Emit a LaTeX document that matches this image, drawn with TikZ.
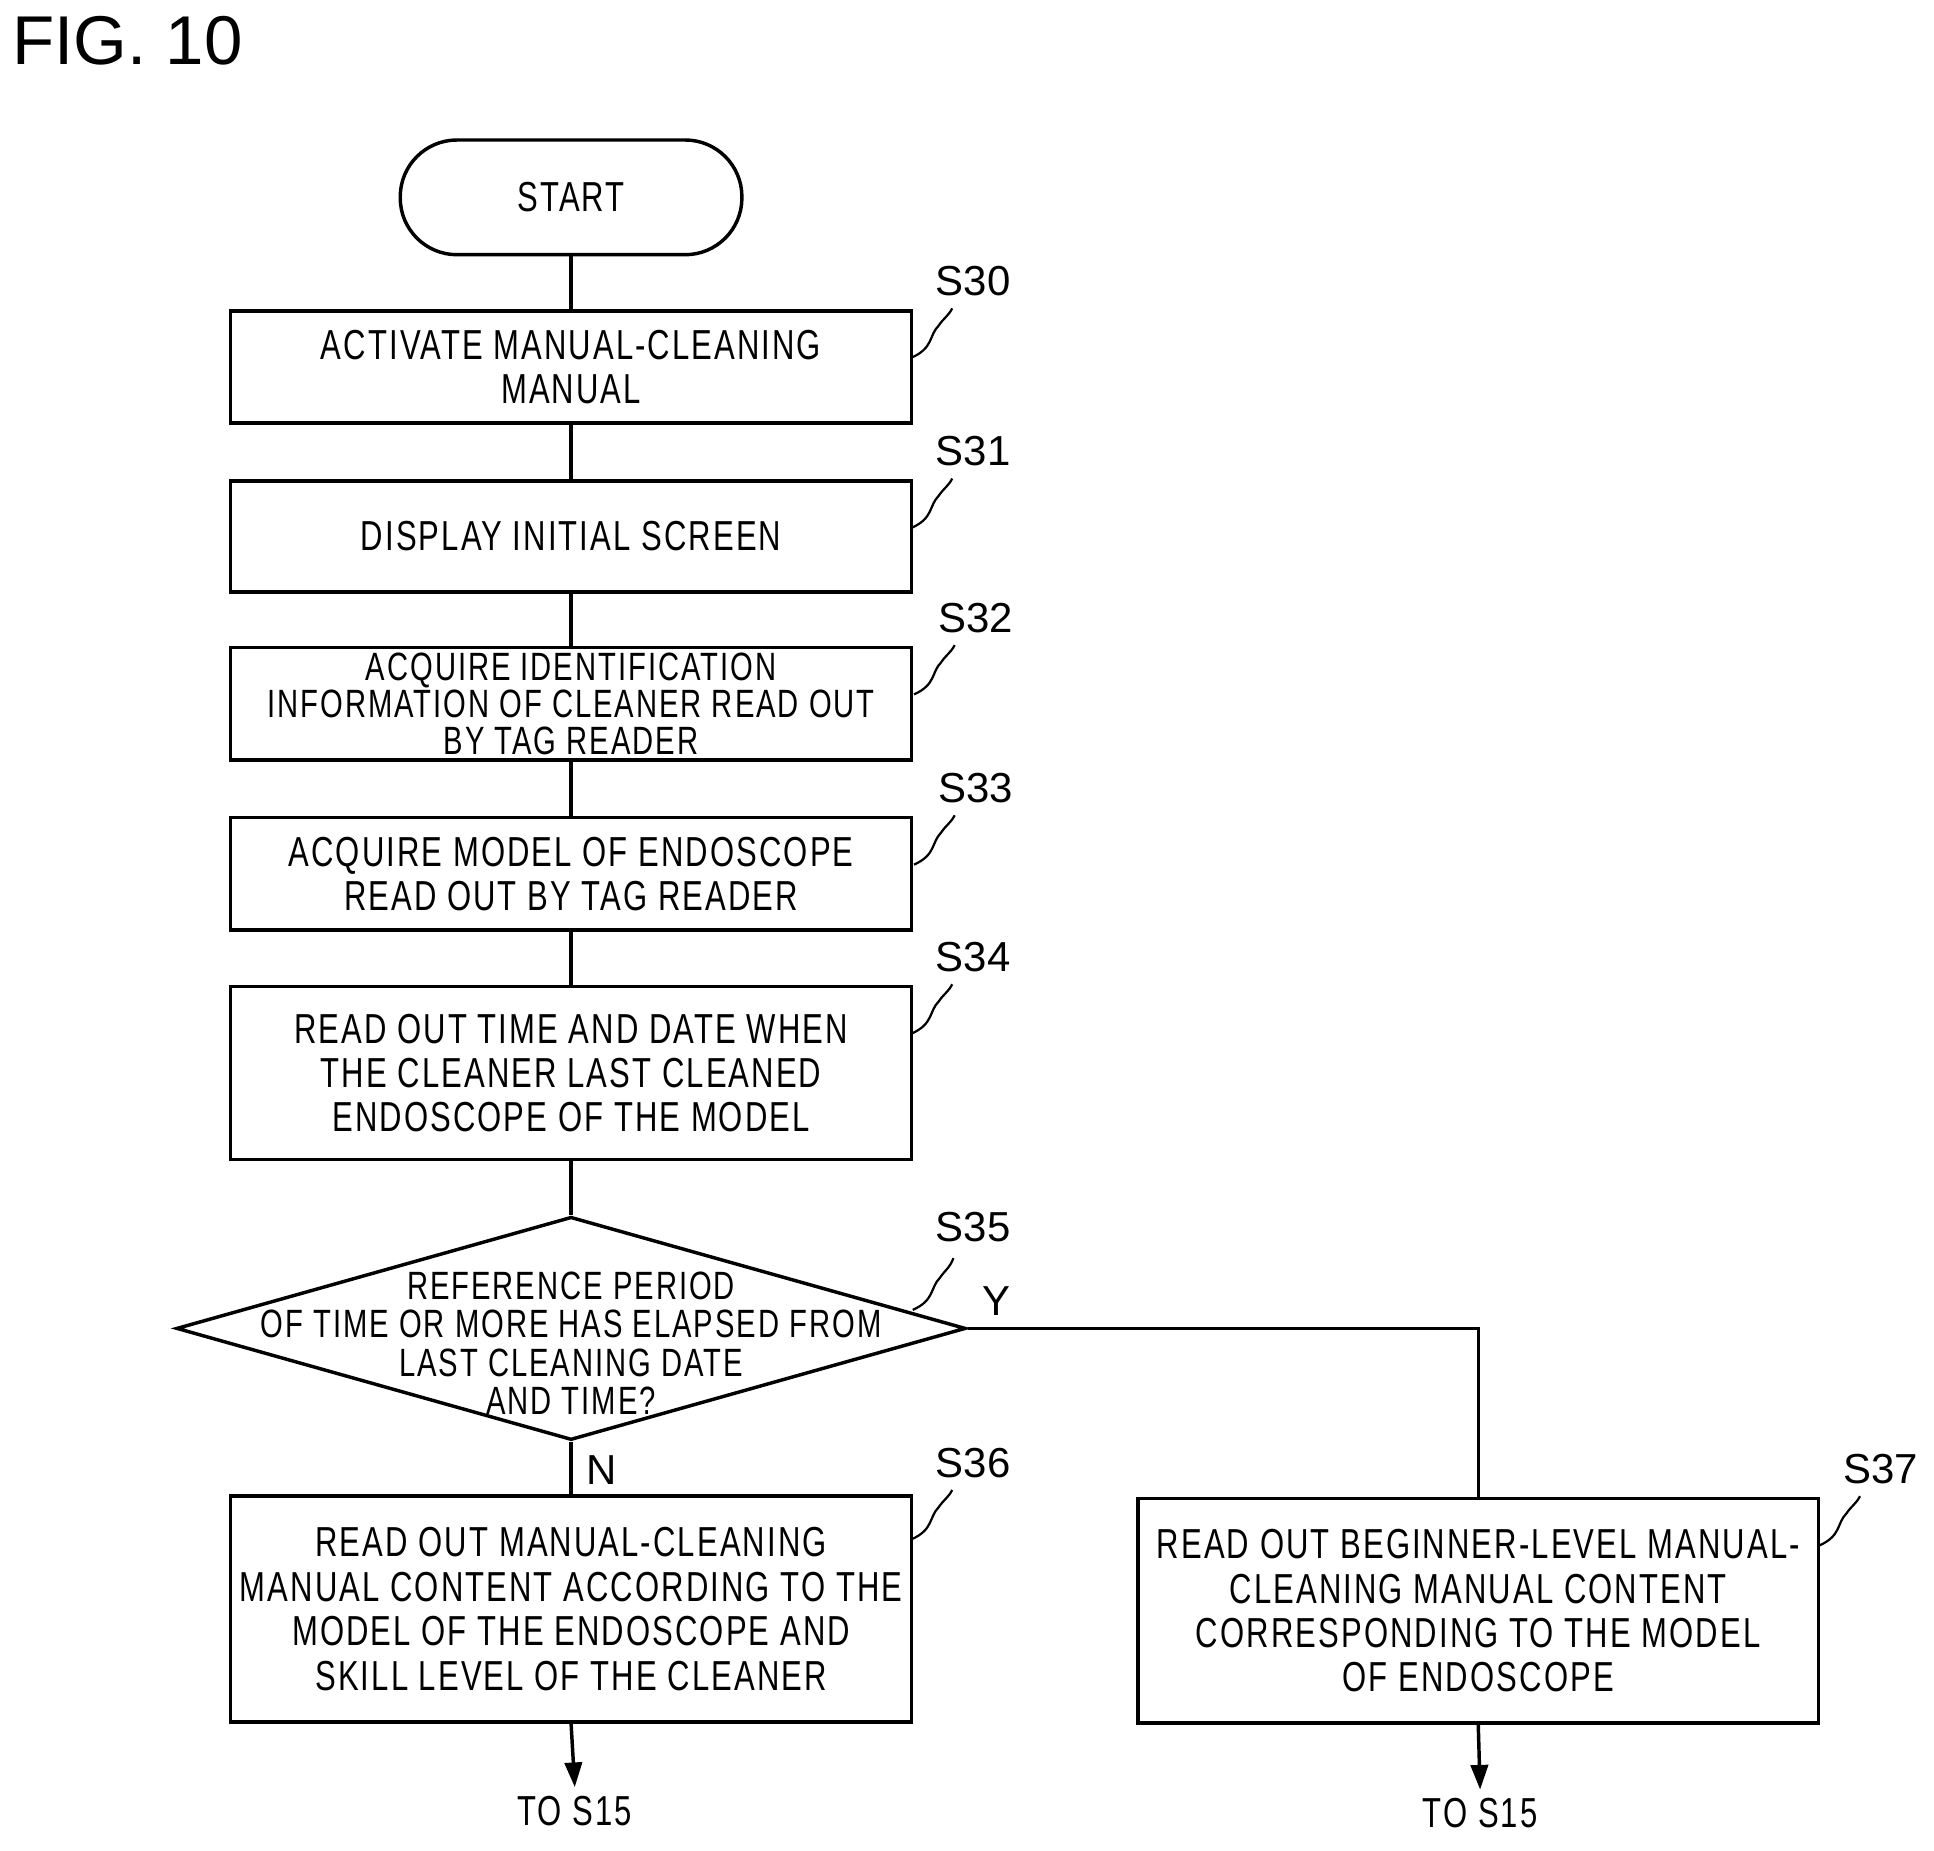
\documentclass[tikz,border=0pt]{standalone}
\usepackage{fontspec}
\setmainfont{Liberation Sans}[FakeStretch=0.74,LetterSpace=5]
\newfontfamily\lblfont{Liberation Sans}
\usetikzlibrary{shapes.geometric,arrows.meta}
\begin{document}
\begin{tikzpicture}[x=0.5pt,y=-0.5pt,
  box/.style={draw,line width=1.4pt,minimum width=276pt,align=center,inner sep=0pt,font=\fontsize{17}{18}\selectfont},
  lbl/.style={font=\lblfont\fontsize{17}{18}\selectfont},
  ln/.style={line width=1.4pt},
  sq/.style={line width=0.9pt}]
\useasboundingbox (0,0) rectangle (1568,1500);
\node[anchor=west,font=\lblfont\fontsize{28}{30}\selectfont] (fig) at (3,33) {FIG. 10};
\node[draw,line width=1.4pt,rounded corners=23pt,minimum width=138.5pt,minimum height=46.5pt,font=\fontsize{17}{18}\selectfont] (start) at (463,160) {START};
\node[box,minimum height=45.5pt] (s30) at (463,297.5) {ACTIVATE MANUAL-CLEANING\\MANUAL};
\node[box,minimum height=45pt] (s31) at (463,435) {DISPLAY INITIAL SCREEN};
\node[box,minimum height=45.5pt,font=\fontsize{16}{15}\selectfont] (s32) at (463,570.5) {ACQUIRE IDENTIFICATION\\INFORMATION OF CLEANER READ OUT\\BY TAG READER};
\node[box,minimum height=45.5pt] (s33) at (463,708.5) {ACQUIRE MODEL OF ENDOSCOPE\\READ OUT BY TAG READER};
\node[box,minimum height=70pt] (s34) at (463,870) {READ OUT TIME AND DATE WHEN\\THE CLEANER LAST CLEANED\\ENDOSCOPE OF THE MODEL};
\node[draw,line width=1.4pt,diamond,aspect=3.54,minimum width=320pt,minimum height=90.5pt,inner sep=0pt,align=center] (s35) at (463,1077) {};
\node[align=center,font=\fontsize{16}{15.5}\selectfont] (s35t) at (463,1089) {REFERENCE PERIOD\\OF TIME OR MORE HAS ELAPSED FROM\\LAST CLEANING DATE\\AND TIME?};
\node[box,minimum height=91.5pt] (s36) at (463,1304.5) {READ OUT MANUAL-CLEANING\\MANUAL CONTENT ACCORDING TO THE\\MODEL OF THE ENDOSCOPE AND\\SKILL LEVEL OF THE CLEANER};
\node[box,minimum height=91pt] (s37) at (1198.5,1306) {READ OUT BEGINNER-LEVEL MANUAL-\\CLEANING MANUAL CONTENT\\CORRESPONDING TO THE MODEL\\OF ENDOSCOPE};
\node[font=\fontsize{17}{18}\selectfont] (t1) at (466,1468) {TO S15};
\node[font=\fontsize{17}{18}\selectfont] (t2) at (1200,1470) {TO S15};
\draw[ln] (start) -- (s30);
\draw[ln] (s30) -- (s31);
\draw[ln] (s31) -- (s32);
\draw[ln] (s32) -- (s33);
\draw[ln] (s33) -- (s34);
\draw[ln] (s34) -- (s35);
\draw[ln] (s35.south) -- (s36.north);
\draw[ln] (s35.east) -| (s37.north);
\draw[ln,-{Triangle[length=10pt,width=7pt]}] (s36.south) -- (t1.north);
\draw[ln,-{Triangle[length=10pt,width=7pt]}] (s37.south) -- (t2.north);
\node[lbl] (y) at (808,1055) {Y};
\node[lbl] (n) at (488,1192) {N};
\foreach \nm/\x/\y/\t in {a/739/252/S30,b/739/390/S31,c/741/525/S32,d/741/663/S33,e/739/800/S34,f/739/1210/S36,g/1475/1215/S37}{
  \node[lbl] (l\nm) at (\x+50,\y-24) {\t};
  \draw[sq] (\x,\y+38) .. controls (\x+18,\y+30) and (\x+14,\y+20) .. (\x+22,\y+12) .. controls (\x+26,\y+6) and (\x+30,\y+4) .. (\x+33,\y-2);
}
\node[lbl] (lh) at (789,995) {S35};
\draw[sq] (740,1062) .. controls (758,1054) and (754,1044) .. (762,1036) .. controls (766,1030) and (770,1028) .. (773,1020);
\end{tikzpicture}
\end{document}
